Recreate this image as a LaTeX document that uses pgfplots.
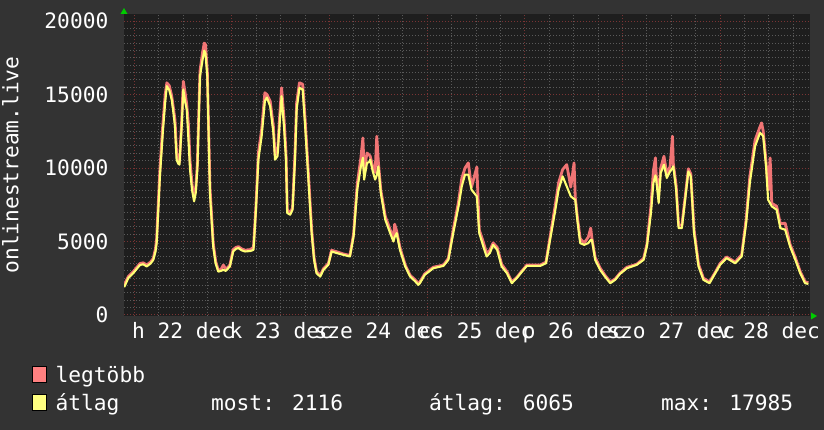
\documentclass[border=0pt]{standalone}
\usepackage{fontspec}
\setmainfont{DejaVu Sans Mono}
\usepackage{pgfplots}
\usepackage{pgfplotstable}
\pgfplotsset{compat=1.18}
\definecolor{bgc}{HTML}{333333}
\definecolor{plotbg}{HTML}{1E1E1E}
\definecolor{mingrid}{HTML}{5A5A5A}
\definecolor{majgrid}{HTML}{7A3434}
\definecolor{maxc}{HTML}{F07474}
\definecolor{avgc}{HTML}{FFFF74}
\definecolor{maxsq}{HTML}{FF8080}
\definecolor{avgsq}{HTML}{FFFF80}
\definecolor{arrowc}{HTML}{00CC00}
\newcommand{\lblfont}{\fontsize{21.2bp}{25bp}\selectfont}
\pgfplotstableread{
h avg max
-2.5 1900 2000
-2.3 2000 2150
-1.5 2500 2600
-0.25 2850 2950
0.5 3100 3200
1.4 3400 3500
2.2 3450 3550
3.05 3300 3400
4.0 3500 3600
4.67 3750 3850
5.2 4300 4500
5.5 4900 5200
5.9 7160 7600
6.3 9430 9900
7.0 12390 12900
7.6 14500 15000
8.0 15570 15800
8.6 15300 15600
9.2 14660 14900
9.6 13800 14100
10.0 12840 13300
10.4 10570 11000
10.8 10300 10500
11.1 10230 10400
11.65 12840 13200
12.05 15340 15900
12.5 14500 15100
12.9 13980 14300
13.3 12000 13000
13.7 9890 10500
14.2 8500 8900
14.7 7730 8000
15.1 8300 8600
15.5 9890 10300
16.15 16250 16600
16.8 17390 17900
17.2 17985 18500
17.5 17800 18400
17.95 16250 16600
18.6 8300 8700
19.4 4660 4900
20.0 3500 3650
20.65 2950 3050
21.3 3000 3100
21.9 3070 3400
22.5 3000 3100
23.5 3300 3400
24.3 4320 4450
25.0 4500 4600
25.6 4550 4650
26.4 4400 4500
27.2 4320 4400
28.5 4350 4450
29.3 4430 4600
29.9 7160 7400
30.5 10570 11000
31.3 12160 12600
32.1 14550 15120
32.6 14800 15000
33.4 14200 14550
34.2 12390 12800
34.6 10570 10900
35.2 10800 11000
35.8 13300 13800
36.2 14890 15460
36.8 12840 13400
37.3 10570 11000
37.6 6940 7200
38.3 6820 6900
38.9 7160 7300
39.5 10570 11000
39.9 13980 14400
40.6 15460 15800
41.4 15340 15700
42.0 12840 13300
42.5 10570 11000
43.0 8300 8700
43.6 5570 5800
44.2 3750 3900
44.8 2840 2950
45.7 2610 2700
46.5 3070 3150
47.7 3410 3500
48.5 4320 4400
49.8 4210 4300
51.4 4090 4150
53.0 3980 4050
53.9 5340 5500
54.8 8525 8900
55.7 10110 10700
56.2 10700 12050
56.5 9210 9800
57.2 10350 11020
57.7 10400 10900
58.0 10570 10800
58.6 9800 10100
59.2 9210 9700
59.6 9500 12160
60.0 10110 10400
60.6 8300 8500
61.7 6480 6700
62.9 5570 5800
63.7 5000 5200
64.0 5300 6180
64.5 5570 5700
65.3 4430 4600
66.6 3300 3400
67.8 2610 2700
69.0 2300 2400
69.8 2050 2150
70.2 2160 2250
71.4 2730 2800
73.5 3180 3250
76.0 3340 3400
77.2 3750 3850
78.4 5570 5800
79.7 7390 7700
80.5 8750 9300
81.3 9550 10000
82.1 9550 10350
82.9 8525 8700
84.2 8070 10070
84.8 5570 5800
85.8 4660 4950
86.6 3980 4200
87.4 4210 4400
88.2 4770 4900
89.2 4430 4600
90.3 3300 3450
91.6 2840 2950
92.8 2160 2250
94.0 2500 2550
95.3 2950 3000
96.5 3340 3400
99.8 3340 3400
101.2 3520 3600
102.2 5110 5300
103.5 7160 7500
104.3 8525 9000
105.3 9430 9900
106.3 8750 10230
107.3 8070 8700
108.1 7900 10350
108.4 7840 8000
108.9 6480 6700
109.6 4890 5200
110.6 4770 4900
111.6 4890 5300
112.2 5110 5910
112.5 5110 5200
113.3 3750 3900
114.5 3070 3200
115.7 2610 2700
117.0 2160 2250
118.2 2390 2450
119.4 2800 2850
121.1 3180 3250
123.5 3410 3450
125.2 3750 3850
126.0 4660 4800
127.0 6940 7400
127.6 8980 9800
128.1 9500 10690
128.3 9210 9500
128.9 7620 8200
129.4 9660 10000
130.2 10230 10800
130.9 9320 9600
131.7 9770 10100
132.3 10000 12160
132.5 10110 10300
133.2 8525 8800
133.8 5910 6100
134.6 5910 6100
135.4 7840 8000
136.2 9770 9950
136.8 9430 9600
137.6 5570 5800
138.7 3300 3450
139.9 2390 2500
141.4 2160 2250
142.8 2840 2900
144.0 3410 3500
145.6 3870 3950
147.7 3520 3600
149.3 3980 4100
150.4 6250 6500
151.3 8980 9400
152.6 11480 11900
153.8 12390 12800
154.2 12300 13070
154.6 12160 12500
155.3 10110 10400
155.8 7840 8500
156.3 7600 10690
156.7 7390 7600
157.9 7160 7400
158.8 5910 6200
160.0 5800 6250
161.2 4660 4800
162.5 3750 3900
163.7 2840 2950
164.9 2160 2250
165.7 2116 2200
}\datatable
\begin{document}
\begin{tikzpicture}[font=\lblfont]
\path[use as bounding box, fill=bgc] (0,0) rectangle (824bp,430bp);
\begin{axis}[
  at={(124bp,114bp)}, anchor=south west,
  width=686bp, height=302bp, scale only axis,
  xmin=-2.53, xmax=166.1,
  ymin=-70, ymax=20480,
  axis background/.style={fill=plotbg},
  axis line style={draw=none},
  major tick length=0pt, minor tick length=0pt,
  xtick={0,24,...,144}, xticklabels={},
  minor xtick={6,12,18,30,36,42,54,60,66,78,84,90,102,108,114,126,132,138,150,156,162},
  ytick={0,5000,10000,15000,20000},
  yticklabels={0,5000,10000,15000,20000},
  minor ytick={500,1000,1500,2000,2500,3000,3500,4000,4500,5500,6000,6500,7000,7500,8000,8500,9000,9500,10500,11000,11500,12000,12500,13000,13500,14000,14500,15500,16000,16500,17000,17500,18000,18500,19000,19500,20500},
  grid=both,
  major grid style={majgrid, line width=1bp, dash pattern=on 1bp off 2bp},
  minor grid style={mingrid, line width=1bp, dash pattern=on 1bp off 2bp},
  extra x ticks={12,36,60,84,108,132,156},
  extra x tick labels={h 22 dec,k 23 dec,sze 24 dec,cs 25 dec,p 26 dec,szo 27 dec,v 28 dec},
  extra x tick style={grid=none},
  xticklabel style={font=\lblfont, text=white, anchor=north, inner sep=0pt, yshift=-6.5bp},
  yticklabel style={font=\lblfont, text=white, anchor=east, inner sep=0pt, xshift=-15.5bp},
  scaled y ticks=false,
]
\addplot[maxc, line width=2.8bp, line join=round] table[x=h, y=max] {\datatable};
\addplot[avgc, line width=2.1bp, line join=round] table[x=h, y=avg] {\datatable};
\end{axis}
% green arrows
\fill[arrowc] (120.5bp,416bp) -- (127.5bp,416bp) -- (124bp,422bp) -- cycle;
\fill[arrowc] (811bp,110.5bp) -- (811bp,117.5bp) -- (817bp,114bp) -- cycle;
% y label
\node[rotate=90, anchor=base, inner sep=0pt, text=white] at (18.3bp,265bp) {onlinestream.live};
% legend
\draw[black, line width=0.8bp, fill=maxsq] (32bp,48bp) rectangle (46bp,64bp);
\draw[black, line width=0.8bp, fill=avgsq] (32bp,20bp) rectangle (46bp,36bp);
\node[anchor=base west, inner sep=0pt, text=white] at (55.5bp,47.5bp) {legtöbb};
\node[anchor=base west, inner sep=0pt, text=white] at (55.5bp,19.5bp) {átlag};
\node[anchor=base west, inner sep=0pt, text=white] at (211bp,19.5bp) {most: 2116};
\node[anchor=base west, inner sep=0pt, text=white] at (429bp,19.5bp) {átlag: 6065};
\node[anchor=base west, inner sep=0pt, text=white] at (661bp,19.5bp) {max: 17985};
\end{tikzpicture}
\end{document}
